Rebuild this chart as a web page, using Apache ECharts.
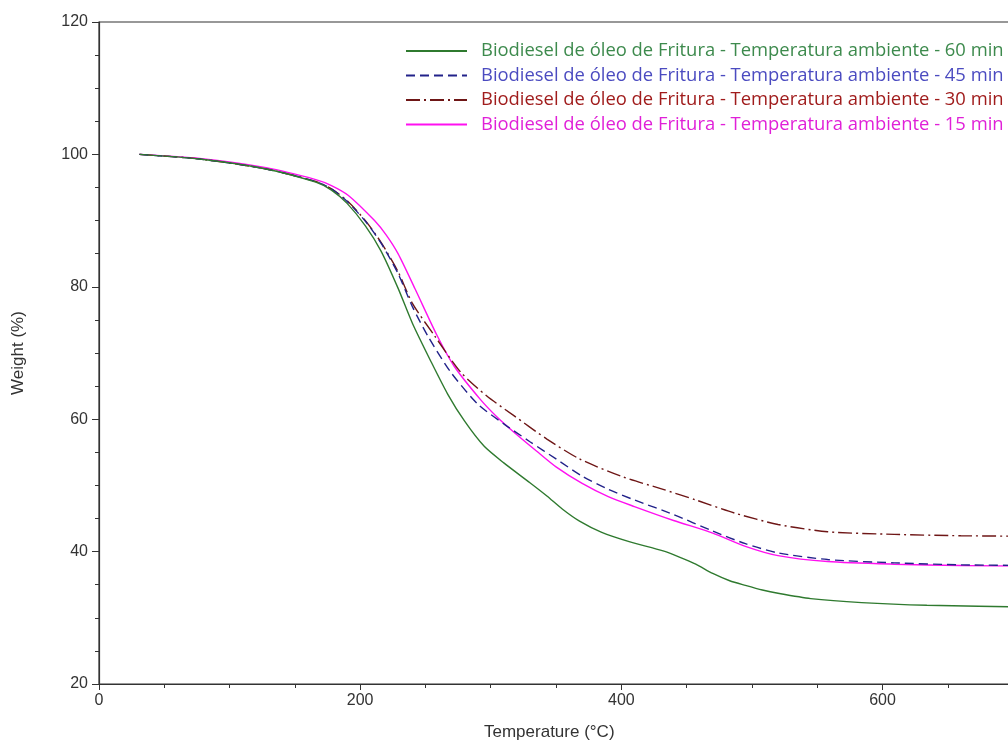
<!DOCTYPE html>
<html><head><meta charset="utf-8">
<script src="https://cdn.jsdelivr.net/npm/echarts@6/dist/echarts.min.js"></script>
<style>html,body{margin:0;padding:0;background:#fff;overflow:hidden;width:1008px;height:744px}#c{width:1160px;height:744px}</style>
</head><body><div id="c"></div>
<script>
const names = [
  'Biodiesel de óleo de Fritura - Temperatura ambiente - 60 min',
  'Biodiesel de óleo de Fritura - Temperatura ambiente - 45 min',
  'Biodiesel de óleo de Fritura - Temperatura ambiente - 30 min',
  'Biodiesel de óleo de Fritura - Temperatura ambiente - 15 min'
];
const t60 = [31,77,128,166,178,190,204,216,229,240,254,267,280,295,310,330,343,355,368,385,406,432,444,457,470,483,495,508,520,545,584,634,720];
const w60 = [100,99.3,97.8,95.8,94.6,92.6,89.2,85.4,79.8,74.5,68.8,63.8,59.7,55.9,53.4,50.4,48.4,46.4,44.6,42.9,41.5,40.1,39.2,38.1,36.7,35.6,34.9,34.2,33.7,32.9,32.3,31.9,31.6];
const t45 = [31,77,128,166,178,190,204,216,229,240,252,269,290,310,330,350,370,390,410,440,470,495,520,558,609,660,720];
const w45 = [100,99.3,97.8,95.9,94.8,92.9,89.9,86.6,82.0,77.0,72.5,67.2,62.3,59.3,56.6,54.0,51.4,49.4,47.8,45.6,43.1,41.2,39.8,38.8,38.3,38.0,37.9];
const t30 = [31,77,128,166,178,190,204,216,229,240,257,277,297,318,343,368,401,432,457,487,520,558,609,660,720];
const w30 = [100,99.3,97.8,95.9,94.8,93.0,90.0,86.7,82.3,77.5,72.6,67.1,63.5,60.5,57.0,54.0,51.3,49.4,47.8,45.8,44.1,43.0,42.6,42.4,42.3];
const t15 = [31,77,128,166,178,191,211,220,229,242,259,272,292,305,318,335,350,370,390,410,440,470,495,520,558,609,660,720];
const w15 = [100,99.4,98.0,96.2,95.3,93.8,90.0,87.8,85.0,79.7,72.6,68.0,63.0,60.3,58.0,55.2,52.8,50.3,48.3,46.8,44.7,42.8,40.8,39.4,38.5,38.1,37.9,37.8];
const xTicks = {min: 0, max: 800, step: 200};
const yTicks = {min: 20, max: 120, step: 20};

const lineColors = ['#2f7a2f', '#22228a', '#6e1616', '#ff10f0'];
const textColors = ['#3d8a4d', '#4b4bc0', '#a01c1c', '#e020d8'];
const dash = ['solid', [9,5], [14,4,2,4], 'solid'];
const xs = [t60, t45, t30, t15], ws = [w60, w45, w30, w15];

const series = names.map((n, i) => ({
  name: n, type: 'line', showSymbol: false, symbol: 'none', smooth: 0.25,
  data: xs[i].map((t, j) => [t, ws[i][j]]),
  lineStyle: {color: lineColors[i], width: 1.4, type: dash[i]},
  itemStyle: {color: lineColors[i]},
  z: 4 - i
}));

const chart = echarts.init(document.getElementById('c'), null, {renderer: 'canvas'});
const axisFont = {fontFamily: 'Liberation Sans, Arial, sans-serif', fontSize: 16, color: '#333'};
chart.setOption({
  animation: false,
  backgroundColor: '#fff',
  grid: {left: 99, top: 22, bottom: 60, right: 9, show: true, borderColor: '#333', borderWidth: 1.2, containLabel: false},
  legend: {
    orient: 'vertical', left: 400, top: 36, itemWidth: 61, itemHeight: 12, itemGap: 4.5,
    itemStyle: {opacity: 0},
    data: names.map((n, i) => ({name: n, textStyle: {color: textColors[i]}})),
    textStyle: {fontFamily: 'Open Sans', fontSize: 18.4, lineHeight: 20, padding: [0, 0, 0, 9]}
  },
  xAxis: {
    type: 'value', min: xTicks.min, max: xTicks.max, interval: xTicks.step,
    axisLine: {lineStyle: {color: '#333', width: 1.2}},
    axisTick: {show: true, inside: false, length: 6, lineStyle: {color: '#333'}},
    minorTick: {show: true, splitNumber: 4, length: 4, lineStyle: {color: '#333'}},
    splitLine: {show: false},
    axisLabel: Object.assign({margin: 9}, axisFont)
  },
  yAxis: {
    type: 'value', min: yTicks.min, max: yTicks.max, interval: yTicks.step,
    name: 'Weight (%)', nameLocation: 'middle', nameGap: 72,
    nameTextStyle: {fontFamily: 'Liberation Sans, Arial, sans-serif', fontSize: 17, color: '#333'},
    axisLine: {show: true, lineStyle: {color: '#333', width: 1.2}},
    axisTick: {show: true, inside: false, length: 7, lineStyle: {color: '#333'}},
    minorTick: {show: true, splitNumber: 4, length: 4, lineStyle: {color: '#333'}},
    splitLine: {show: false},
    axisLabel: Object.assign({margin: 11}, axisFont)
  },
  graphic: [{
    type: 'text', left: 484, top: 724,
    style: {text: 'Temperature (°C)', font: '17px "Liberation Sans", Arial, sans-serif', fill: '#333'}
  }],
  series: series
});
</script></body></html>
